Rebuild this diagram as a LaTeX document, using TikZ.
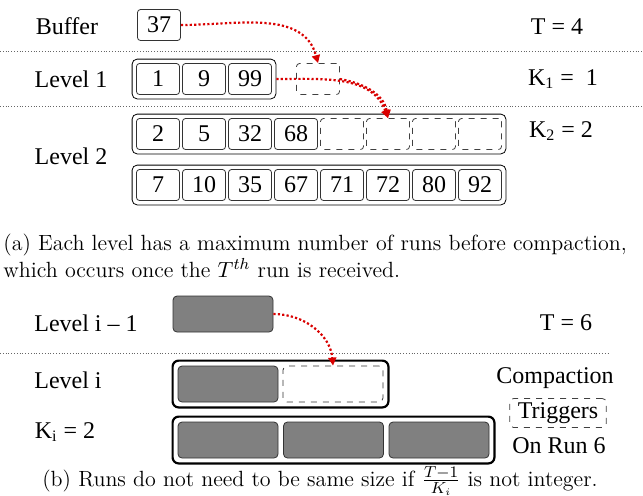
\documentclass[tikz,border=0pt]{standalone}
\usepackage{fontspec}
\newfontfamily\diagfont{Liberation Serif}
\usetikzlibrary{arrows.meta, positioning, fit}

\tikzset{
  run/.style={draw=black!80, rounded corners=1.5pt, minimum width=21.5pt, minimum height=15.5pt, inner sep=0pt, font=\diagfont\fontsize{12}{14}\selectfont},
  emptyrun/.style={run, dashed, draw=black!75},
  level/.style={draw, rounded corners=2.5pt, inner sep=2pt},
  grayrun/.style={draw=black!80, fill=black!50, rounded corners=2pt, minimum width=50pt, minimum height=18pt, inner sep=0pt},
  holerun/.style={grayrun, fill=none, dashed},
  biglevel/.style={draw, line width=1.1pt, rounded corners=3pt, inner sep=2.5pt},
  lbl/.style={font=\diagfont\fontsize{12}{14}\selectfont},
  merge/.style={red!85!black, line width=1.1pt, dash pattern=on 1.1pt off 1.1pt, -{Triangle[length=4pt,width=4pt]}},
  sep/.style={black!60, densely dotted, line width=0.4pt},
  caption/.style={inner sep=0pt, font=\fontsize{11}{11.5}\selectfont},
}

\begin{document}
\begin{tikzpicture}[x=0.5pt,y=-0.5pt]
  \useasboundingbox (0,0) rectangle (643,495);
  % (a) buffer row
  \node[lbl] (buf) at (67,26) {Buffer};
  \node[run] (b37) at (159,25) {37};
  \node[lbl] (t4) at (557,27) {T = 4};
  \draw[sep] (0,51) -- (643,51);
  % level 1
  \node[lbl] (lv1) at (71,79) {Level 1};
  \foreach \v [count=\i] in {1,9,99}
    \node[run] (a\i) at ({158+(\i-1)*46},79) {\v};
  \node[level, fit=(a1)(a3)] (l1) {};
  \node[emptyrun] (a4) at (318,79) {};
  \node[lbl] (k1) at (563,79) {K\textsubscript{1} = \ 1};
  \draw[sep] (0,106) -- (643,106);
  % level 2
  \node[lbl] (lv2) at (71,156) {Level 2};
  \foreach \v [count=\i] in {2,5,32,68}
    \node[run] (c\i) at ({158+(\i-1)*46},134) {\v};
  \foreach \i in {5,...,8}
    \node[emptyrun] (c\i) at ({158+(\i-1)*46},134) {};
  \node[level, fit=(c1)(c8)] (l2a) {};
  \foreach \v [count=\i] in {7,10,35,67,71,72,80,92}
    \node[run] (d\i) at ({158+(\i-1)*46},185) {\v};
  \node[level, fit=(d1)(d8)] (l2b) {};
  \node[lbl] (k2) at (561,131) {K\textsubscript{2} = 2};
  % merges
  \draw[merge] (b37.east) to[out=0,in=105] (a4.north);
  \draw[merge] (l1.east) to[out=0,in=110] (c6.north);
  \draw[merge] (a4.east) to[out=-10,in=100] (c6.north);
  % caption (a)
  \node[caption, anchor=west, align=left] (capa) at (3,256)
    {(a) Each level has a maximum number of runs before compaction,\\
     which occurs once the $T^{th}$ run is received.};
  % (b) level i-1
  \node[lbl] (lvb1) at (86,323) {Level i \textendash{} 1};
  \node[grayrun] (g0) at (223,314) {};
  \node[lbl] (t6) at (566,323) {T = 6};
  \draw[sep] (0,353) -- (608,353);
  % level i
  \node[lbl] (lvb2) at (68,380) {Level i};
  \node[grayrun] (g1) at (228,384) {};
  \node[holerun] (g2) at (333,384) {};
  \node[biglevel, fit=(g1)(g2)] (li) {};
  \node[lbl] (ki) at (65,432) {K\textsubscript{i} = 2};
  \foreach \i in {1,2,3}
    \node[grayrun] (h\i) at ({228+(\i-1)*105.5},440) {};
  \node[biglevel, fit=(h1)(h3)] (lj) {};
  \node[lbl] (comp) at (555,378) {Compaction};
  \node[lbl, draw=black!75, dashed, rounded corners=2pt, inner xsep=4pt, inner ysep=2pt] (trig) at (558,413) {Triggers};
  \node[lbl] (onrun) at (559,446) {On Run 6};
  \draw[merge] (g0.east) to[out=0,in=95] (g2.north);
  % caption (b)
  \node[caption, anchor=base] (capb) at (320,486)
    {(b) Runs do not need to be same size if $\frac{T-1}{K_i}$ is not integer.};
\end{tikzpicture}
\end{document}
